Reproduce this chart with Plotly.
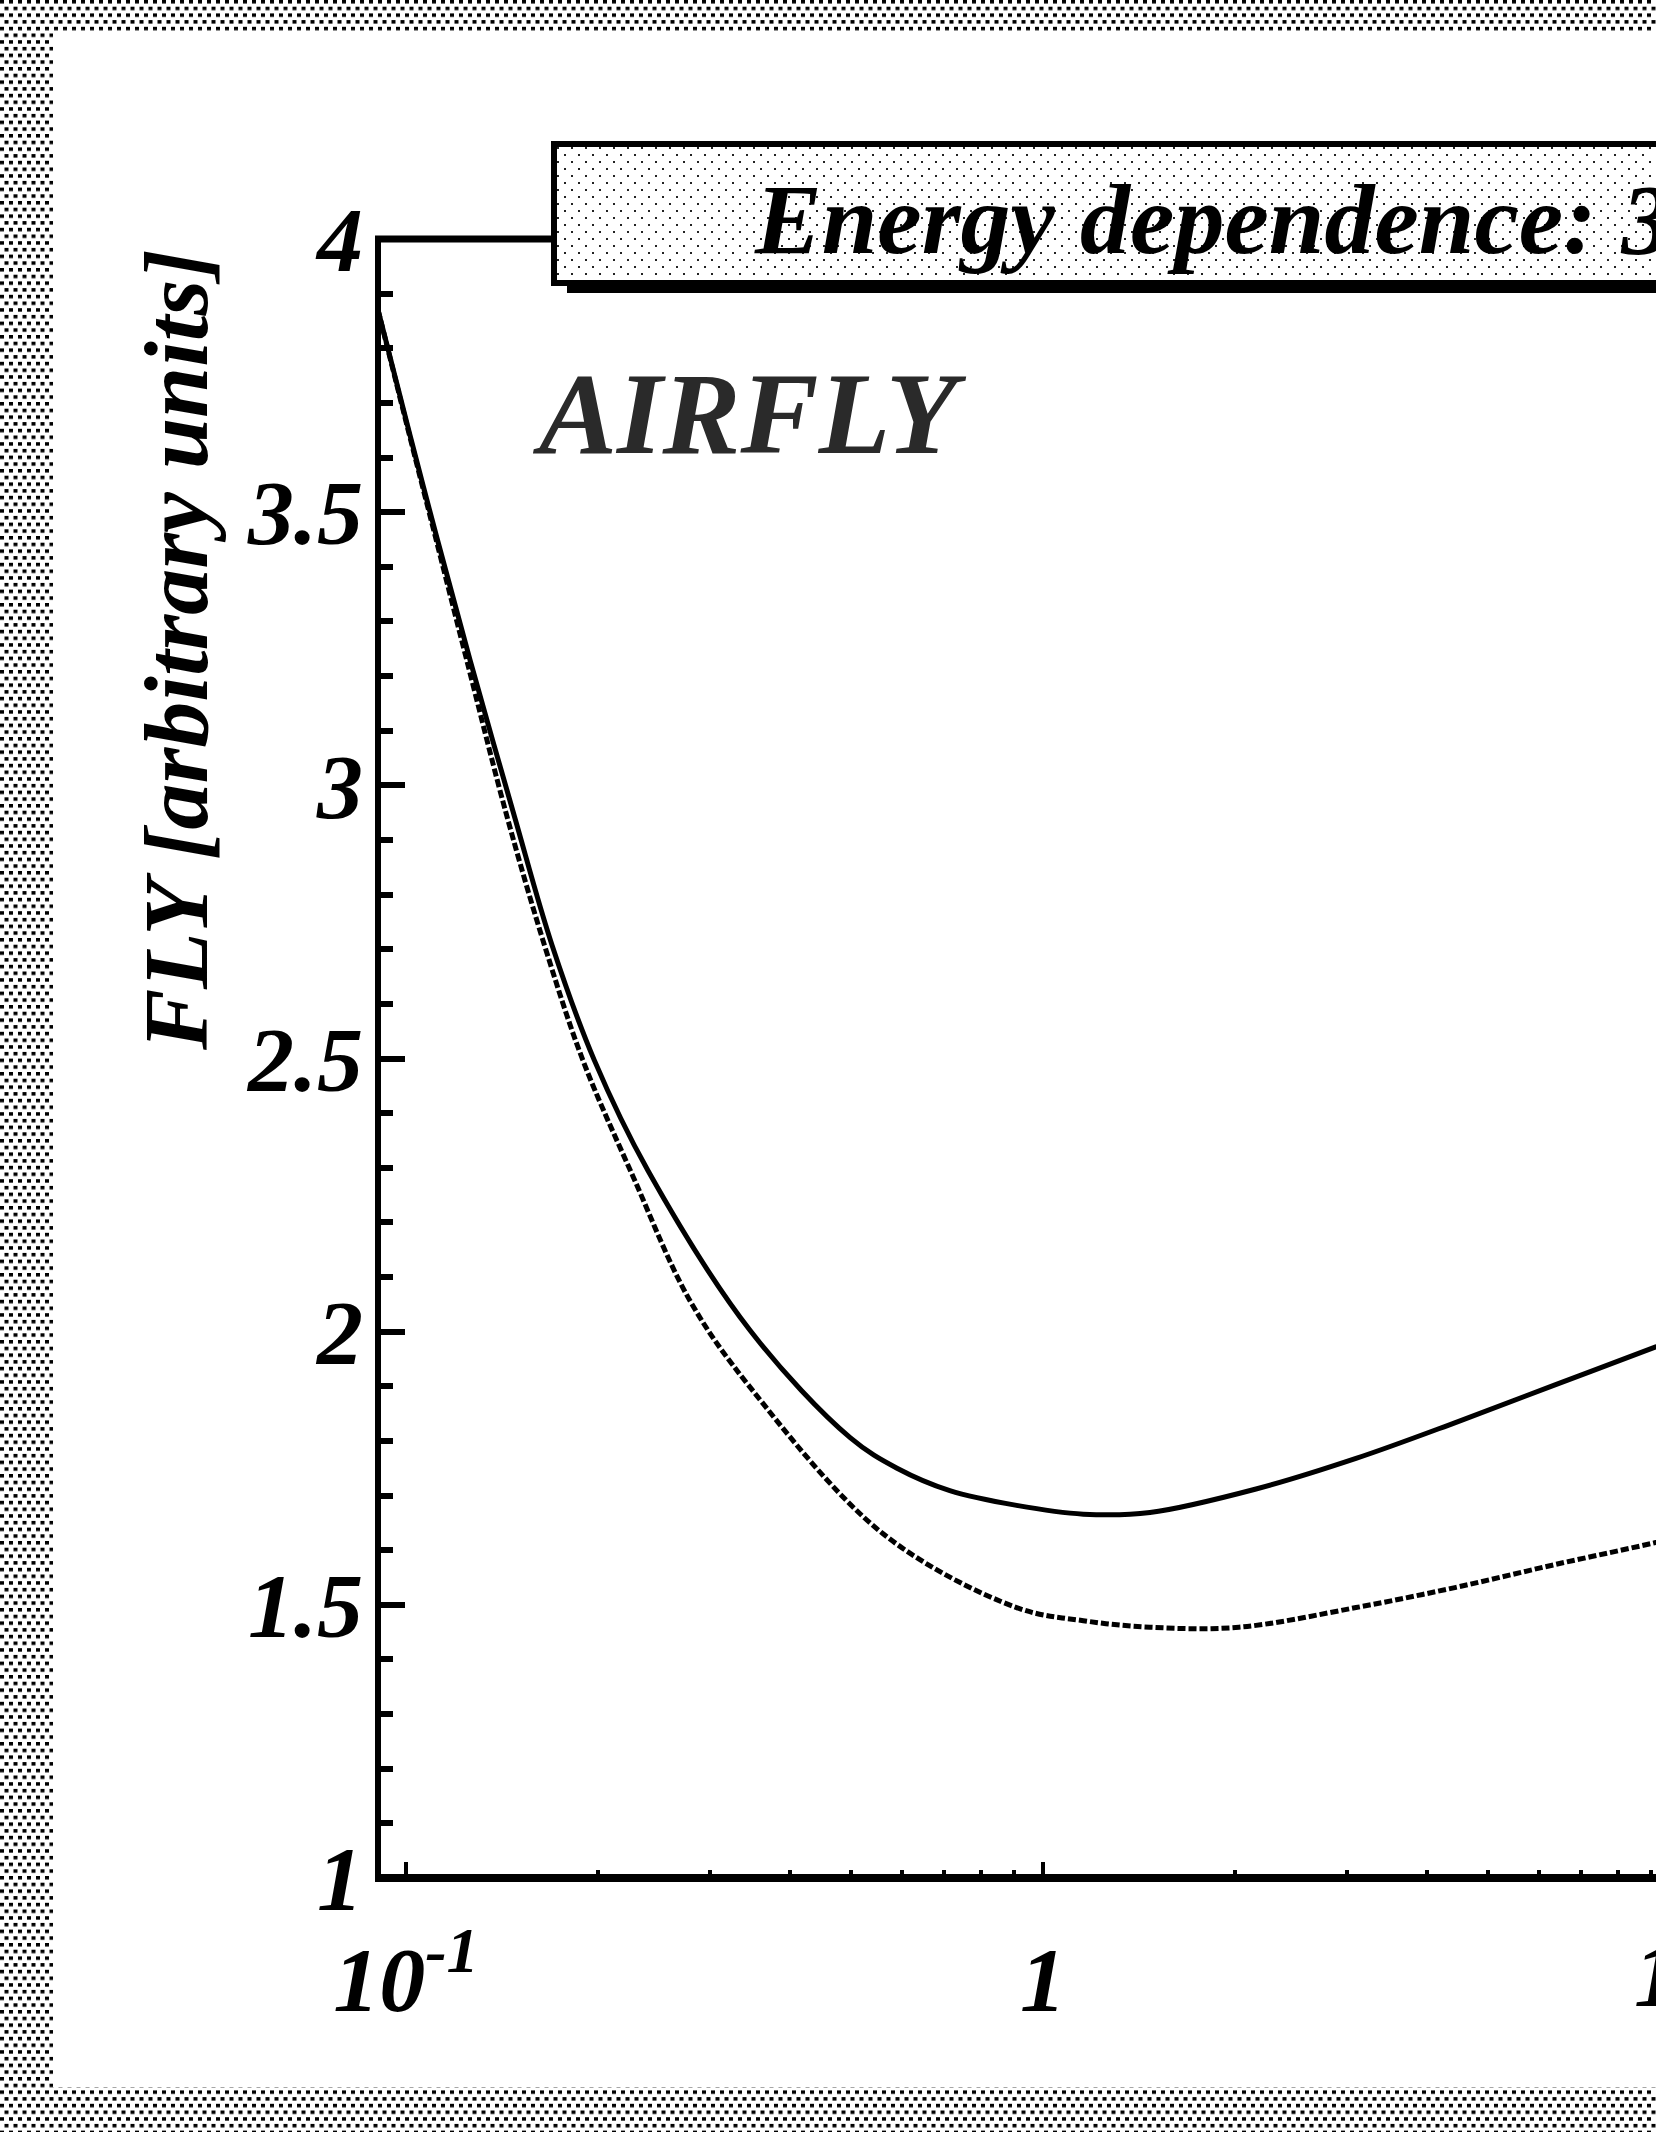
import base64
import plotly.graph_objects as go

# ---------------- data ----------------
energy_solid = [0.0904, 0.1015, 0.1117, 0.126, 0.148, 0.1696, 0.1975, 0.24, 0.347,
                0.498, 0.59, 0.714, 0.909, 1.157, 1.472, 2.16, 3.10, 4.45, 6.38, 9.16, 10.0]
fly_solid = [3.87, 3.64, 3.455, 3.23, 2.943, 2.707, 2.497, 2.294, 2.002,
             1.806, 1.750, 1.709, 1.682, 1.666, 1.669, 1.712, 1.768, 1.834, 1.903, 1.972, 1.989]

energy_dash = [0.0904, 0.1013, 0.1112, 0.1245, 0.1439, 0.165, 0.1895, 0.227, 0.279, 0.347,
               0.561, 0.909, 1.157, 1.472, 2.03, 3.10, 4.45, 6.38, 9.16, 10.0]
fly_dash = [3.87, 3.64, 3.455, 3.23, 2.945, 2.707, 2.497, 2.285, 2.057, 1.898,
            1.630, 1.495, 1.471, 1.459, 1.459, 1.495, 1.532, 1.574, 1.614, 1.625]

x_tick_vals = [0.1, 1, 10]
x_tick_text = ["10<sup>-1</sup>", "1", "10"]
x_minor_vals = [0.2, 0.3, 0.4, 0.5, 0.6, 0.7, 0.8, 0.9, 2, 3, 4, 5, 6, 7, 8, 9]
y_tick_vals = [1, 1.5, 2, 2.5, 3, 3.5, 4]
y_tick_text = ["1", "1.5", "2", "2.5", "3", "3.5", "4"]

title_text = "Energy dependence: 337 nm"
label_text = "AIRFLY"
y_title = "FLY [arbitrary units]"

# ---------------- layout geometry ----------------
W, H = 1656, 2132
L, T, B = 378, 239, 1878
PW, PH = W - L, B - T
DEC = 637.0                      # pixels per decade
x_range = [-1 - (406 - L) / DEC, -1 + (W - 406) / DEC]
y_range = [1, 4]


def px(x):
    return (x - L) / PW


def py(y):
    return (B - y) / PH


FONT = "Liberation Serif"
tfont = dict(family=FONT, size=92, color="black", weight="bold", style="italic")


def uri(svg):
    return "data:image/svg+xml;base64," + base64.b64encode(svg.encode()).decode()


bg_svg = (f"<svg xmlns='http://www.w3.org/2000/svg' width='{W}' height='{H}' "
          f"viewBox='0 0 {W} {H}' preserveAspectRatio='none'>"
          "<defs><pattern id='p' width='9' height='13.4' patternUnits='userSpaceOnUse'>"
          "<rect x='0' y='0' width='4' height='3.5' fill='#000'/>"
          "<rect x='4.5' y='6.7' width='4' height='3.5' fill='#000'/></pattern></defs>"
          f"<rect width='{W}' height='{H}' fill='#fff'/>"
          f"<rect width='{W}' height='{H}' fill='url(#p)'/>"
          f"<rect x='53' y='33' width='{W - 53}' height='{2087 - 33}' fill='#fff'/></svg>")

BX0, BY0, BX1, BY1 = 554, 144, 1900, 283
box_svg = (f"<svg xmlns='http://www.w3.org/2000/svg' width='{BX1 - BX0}' height='{BY1 - BY0}' "
           f"viewBox='0 0 {BX1 - BX0} {BY1 - BY0}' preserveAspectRatio='none'>"
           "<defs><pattern id='q' width='14' height='14' patternUnits='userSpaceOnUse'>"
           "<rect x='3' y='3' width='2' height='2' fill='#222'/>"
           "<rect x='10' y='10' width='2' height='2' fill='#222'/></pattern></defs>"
           f"<rect width='100%' height='100%' fill='#fff'/>"
           f"<rect width='100%' height='100%' fill='url(#q)'/></svg>")

fig = go.Figure()
fig.add_trace(go.Scatter(x=energy_dash, y=fly_dash, mode="lines",
                         line=dict(color="black", width=5, dash="8px,3px",
                                   shape="spline", smoothing=1.0),
                         showlegend=False, hoverinfo="skip"))
fig.add_trace(go.Scatter(x=energy_solid, y=fly_solid, mode="lines",
                         line=dict(color="black", width=5, shape="spline", smoothing=1.0),
                         showlegend=False, hoverinfo="skip"))

shapes = [
    # frame lines
    dict(type="line", xref="paper", yref="paper", x0=0, x1=0, y0=py(1882), y1=py(236),
         line=dict(color="black", width=6), layer="above"),
    dict(type="line", xref="paper", yref="paper", x0=px(375), x1=1.2, y0=0, y1=0,
         line=dict(color="black", width=8), layer="above"),
    dict(type="line", xref="paper", yref="paper", x0=px(375), x1=px(556), y0=1, y1=1,
         line=dict(color="black", width=7), layer="above"),
    # title box shadow + border
    dict(type="rect", xref="paper", yref="paper", x0=px(567), x1=px(1900),
         y0=py(293), y1=py(285), fillcolor="black", line=dict(width=0), layer="above"),
    dict(type="rect", xref="paper", yref="paper", x0=px(BX0), x1=px(BX1),
         y0=py(BY1), y1=py(BY0), fillcolor="rgba(0,0,0,0)",
         line=dict(color="black", width=6), layer="above"),
]

images = [
    dict(source=uri(bg_svg), xref="paper", yref="paper", x=px(0), y=py(0),
         sizex=W / PW, sizey=H / PH, xanchor="left", yanchor="top",
         sizing="stretch", layer="below"),
    dict(source=uri(box_svg), xref="paper", yref="paper", x=px(BX0), y=py(BY0),
         sizex=(BX1 - BX0) / PW, sizey=(BY1 - BY0) / PH, xanchor="left", yanchor="top",
         sizing="stretch", layer="above"),
]

annotations = [
    dict(text=y_title, xref="paper", yref="paper", x=px(176), y=py(650),
         xanchor="center", yanchor="middle", textangle=-90, showarrow=False,
         font=dict(family=FONT, size=92, color="black", weight="bold", style="italic")),
    dict(text=label_text, xref="paper", yref="paper", x=px(530), y=py(414),
         xanchor="left", yanchor="middle", showarrow=False,
         font=dict(family=FONT, size=117, color="#2a2a2a", weight="bold", style="italic")),
    dict(text=title_text, xref="paper", yref="paper", x=px(752), y=py(219),
         xanchor="left", yanchor="middle", showarrow=False,
         font=dict(family=FONT, size=100, color="black", weight="bold", style="italic")),
    # tick label of the decade just beyond the visible right edge
    dict(text=x_tick_text[2], xref="paper", yref="paper",
         x=(1.0 - x_range[0]) / (x_range[1] - x_range[0]), y=py(1975),
         xanchor="center", yanchor="middle", showarrow=False, font=tfont),
]

fig.update_layout(
    width=W, height=H,
    margin=dict(l=L, r=0, t=T, b=H - B, pad=0),
    paper_bgcolor="white", plot_bgcolor="white",
    showlegend=False,
    shapes=shapes, images=images, annotations=annotations,
    xaxis=dict(type="log", range=x_range, showline=False, showgrid=False, zeroline=False,
               ticks="inside", ticklen=16, tickwidth=4, tickcolor="black",
               tickmode="array", tickvals=x_tick_vals, ticktext=x_tick_text,
               tickfont=tfont, ticklabelstandoff=40,
               minor=dict(tickmode="array", tickvals=x_minor_vals, ticks="inside",
                          ticklen=8, tickwidth=4, tickcolor="black", showgrid=False)),
    yaxis=dict(range=y_range, showline=False, showgrid=False, zeroline=False,
               ticks="inside", ticklen=27, tickwidth=6, tickcolor="black",
               tickmode="array", tickvals=y_tick_vals, ticktext=y_tick_text,
               tickfont=tfont, ticklabelstandoff=14,
               minor=dict(dtick=0.1, ticks="inside", ticklen=15, tickwidth=6,
                          tickcolor="black", showgrid=False)),
)

fig.write_html("out.html")
